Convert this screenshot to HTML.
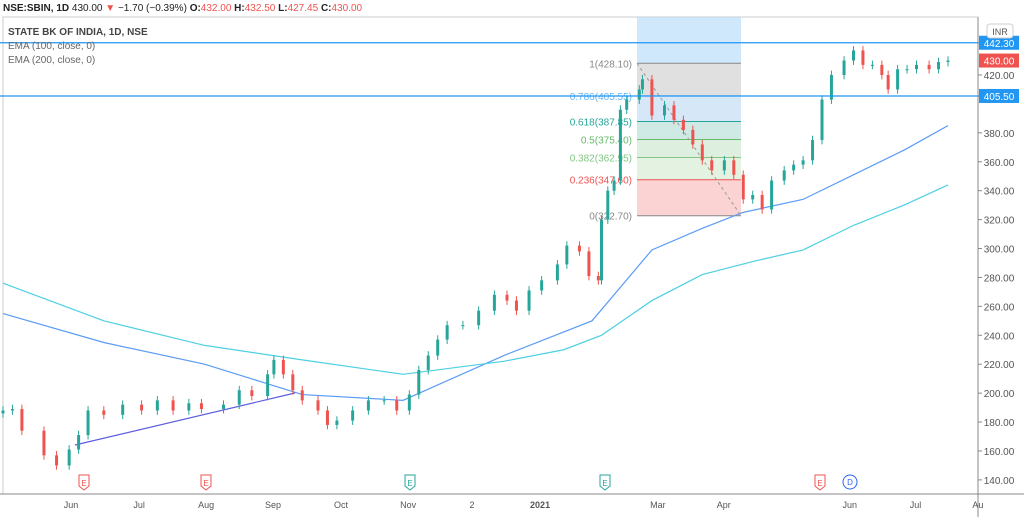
<!DOCTYPE html>
<html><head><meta charset="utf-8"><style>
body{margin:0;background:#fff;font-family:"Liberation Sans",sans-serif}
svg{display:block}
</style></head><body>
<svg id="c" width="1024" height="521" xmlns="http://www.w3.org/2000/svg" font-family="Liberation Sans, sans-serif"></svg>
<script>
const days=[0,3,6,13,17,21,24,27,32,38,44,49,54,59,63,70,75,79,84,86,89,92,95,100,103,106,111,116,121,125,129,132,135,138,141,146,151,156,160,163,167,171,176,179,183,186,189,190,192,194,196,198,202,203,206,210,213,216,219,222,225,229,232,235,238,241,244,248,251,254,257,260,263,267,270,273,276,279,281,284,287,290,294,297,300];
const closes=[188,189,174,157,150,161,171,188,185,192,188,195,188,193,189,192,202,198,213,223,213,202,195,188,178,181,188,195,195,188,199,216,226,237,247,247,257,268,264,257,271,278,289,302,298,281,278,320,340,347,396,403,410,417,392,399,389,382,372,361,354,361,351,334,337,327,347,354,358,361,375,403,420,430,437,427,427,420,410,424,424,427,424,429,430];
const ema100=[[0,255],[32,235],[64,220],[95,199],[127,195],[159,226],[187,250],[206,299],[222,314],[235,325],[254,334],[270,351],[286,368],[300,385]];
const ema200=[[0,276],[32,250],[64,233],[95,223],[127,213],[159,222],[178,230],[190,240],[206,264],[222,282],[238,291],[254,299],[270,316],[286,330],[300,344]];
const priceTicks=[140,160,180,200,220,240,260,280,300,320,340,360,380,400,420];
const monthLabels=["Jun","Jul","Aug","Sep","Oct","Nov","2","2021","Mar","Apr","Jun","Jul","Au"];
const monthDays=[21.6,43.2,64.5,85.7,107.3,128.6,148.9,170.5,207.9,228.8,268.8,289.7,309.5];
const fibLevels=[1,0.786,0.618,0.5,0.382,0.236,0];
const fibPrices=[428.10,405.55,387.85,375.40,362.95,347.60,322.70];
const X=d=>3+d*3.15, Y=p=>75+(420-p)*1.446;
const svg=document.getElementById('c');const NS='http://www.w3.org/2000/svg';
function el(t,a,n,i,txt){const e=document.createElementNS(NS,t);for(const k in a)e.setAttribute(k,a[k]);


if(txt!==undefined)e.textContent=txt;svg.appendChild(e);return e;}
el('rect',{x:3,y:17,width:975,height:477,fill:'none',stroke:'#ccc'},'chart-pane',false);
const fx1=637,fx2=741;
el('rect',{x:fx1,y:17,width:fx2-fx1,height:Y(428.1)-17,fill:'#bbdefb',opacity:.7},'fib-top-zone',false);
const fibFill=['#e0e0e0','#d6e8f8','#cfe9e4','#ddf0e0','#e3f2e1','#fbd3d3'];
const fibCol=['#888','#64b5f6','#26a69a','#66bb6a','#81c784','#ef5350','#888'];
for(let i=0;i<6;i++)el('rect',{x:fx1,y:Y(fibPrices[i]),width:fx2-fx1,height:Y(fibPrices[i+1])-Y(fibPrices[i]),fill:fibFill[i]},'fib-zone-'+i,false);
for(let i=0;i<7;i++){el('line',{x1:fx1,x2:fx2,y1:Y(fibPrices[i]),y2:Y(fibPrices[i]),stroke:fibCol[i],'stroke-width':1},'fib-line-'+i,false);
el('text',{x:fx1-5,y:Y(fibPrices[i])+4,'text-anchor':'end','font-size':10,fill:fibCol[i]},'fib-label-'+i,false,fibLevels[i]+'('+fibPrices[i].toFixed(2)+')');}
el('line',{x1:fx1,y1:Y(428.1),x2:fx2,y2:Y(322.7),stroke:'#999','stroke-dasharray':'3,3'},'fib-trend-line',false);
const pts=a=>a.map(p=>X(p[0])+','+Y(p[1])).join(' ');
el('polyline',{points:pts(ema100),fill:'none',stroke:'#5b9cf6','stroke-width':1.2},'ema-100-line',false);
el('polyline',{points:pts(ema200),fill:'none',stroke:'#4dd0e1','stroke-width':1.2},'ema-200-line',false);
el('line',{x1:75,y1:445,x2:295,y2:393,stroke:'#5c5ce0','stroke-width':1.2},'trend-line',true);
for(let i=0;i<closes.length;i++){const c=closes[i],o=i?closes[i-1]:c-2;const up=c>=o;const col=up?'#26a69a':'#ef5350';
const x=X(days[i]);const hi=Math.max(o,c)+3,lo=Math.min(o,c)-3;
el('line',{x1:x,x2:x,y1:Y(hi),y2:Y(lo),stroke:col},'candle-wick',false);
el('rect',{x:x-1.5,y:Y(Math.max(o,c)),width:3,height:Math.max(1,Math.abs(Y(o)-Y(c))),fill:col},'candle-body',false);}
[[442.3,'442.30'],[405.5,'405.50']].forEach((h,i)=>{el('line',{x1:0,x2:980,y1:Y(h[0]),y2:Y(h[0]),stroke:'#2196f3','stroke-width':1.3},'horizontal-line-'+i,true);
el('rect',{x:979,y:Y(h[0])-7,width:40,height:14,fill:'#2196f3'},'price-label-bg-'+i,false);
el('text',{x:999,y:Y(h[0])+4,'text-anchor':'middle','font-size':10,fill:'#fff'},'price-label-'+i,false,h[1]);});
el('line',{x1:978,x2:978,y1:17,y2:517,stroke:'#888'},'price-axis-line',false);
el('line',{x1:0,x2:1024,y1:494,y2:494,stroke:'#888'},'time-axis-line',false);
priceTicks.forEach(p=>{if(p===400)return;el('text',{x:999,y:Y(p)+4,'text-anchor':'middle','font-size':10,fill:'#555'},'price-tick',false,p.toFixed(2));
el('line',{x1:978,x2:982,y1:Y(p),y2:Y(p),stroke:'#888'},'price-tick-mark',false);});
el('rect',{x:979,y:Y(430)-7,width:40,height:14,fill:'#ef5350'},'last-price-bg',false);
el('text',{x:999,y:Y(430)+4,'text-anchor':'middle','font-size':10,fill:'#fff'},'last-price-label',false,'430.00');
el('rect',{x:987,y:24,width:26,height:14,rx:3,fill:'#fff',stroke:'#ccc'},'currency-box',false);
el('text',{x:1000,y:35,'text-anchor':'middle','font-size':9,fill:'#555'},'currency-label',false,'INR');
monthLabels.forEach((m,i)=>el('text',{x:X(monthDays[i]),y:508,'text-anchor':'middle','font-size':9,fill:'#555','font-weight':m==='2021'?'bold':'normal'},'time-tick',false,m));
[[84,'#ef5350'],[206,'#ef5350'],[410,'#26a69a'],[605,'#26a69a'],[820,'#ef5350']].forEach(e=>{
el('path',{d:`M${e[0]-5},475 h10 v11 l-5,4 l-5,-4 z`,fill:'#fff',stroke:e[1]},'earnings-marker',true);
el('text',{x:e[0],y:486,'text-anchor':'middle','font-size':8,fill:e[1]},'earnings-marker-label',false,'E');});
el('circle',{cx:850,cy:482,r:7,fill:'#fff',stroke:'#2962ff'},'dividend-marker',true);
el('text',{x:850,y:485,'text-anchor':'middle','font-size':8,fill:'#2962ff'},'dividend-marker-label',false,'D');
const hd=el('text',{x:3,y:11,'font-size':10,fill:'#222'},'ticker-header',false);
hd.innerHTML='<tspan font-weight="bold">NSE:SBIN, 1D</tspan> 430.00 <tspan fill="#ef5350">▼</tspan> −1.70 (−0.39%) <tspan font-weight="bold">O:</tspan><tspan fill="#ef5350">432.00</tspan> <tspan font-weight="bold">H:</tspan><tspan fill="#ef5350">432.50</tspan> <tspan font-weight="bold">L:</tspan><tspan fill="#ef5350">427.45</tspan> <tspan font-weight="bold">C:</tspan><tspan fill="#ef5350">430.00</tspan>';
el('text',{x:8,y:35,'font-size':10,'font-weight':'bold',fill:'#444'},'series-title',false,'STATE BK OF INDIA, 1D, NSE');
el('text',{x:8,y:49,'font-size':10,fill:'#666'},'ema-100-legend',false,'EMA (100, close, 0)');
el('text',{x:8,y:63,'font-size':10,fill:'#666'},'ema-200-legend',false,'EMA (200, close, 0)');
</script>
</body></html>
